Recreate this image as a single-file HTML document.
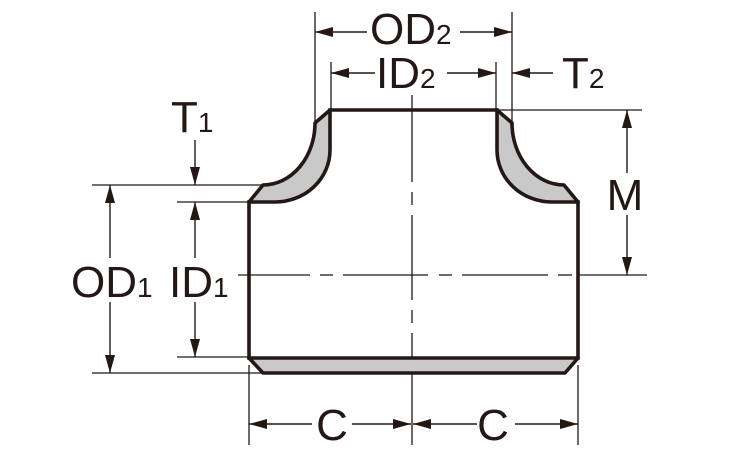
<!DOCTYPE html>
<html>
<head>
<meta charset="utf-8">
<style>
  html,body{margin:0;padding:0;background:#fff;}
  svg{display:block;}
  text{font-family:"Liberation Sans",Arial,sans-serif;fill:#231815;}
</style>
</head>
<body>
<svg width="750" height="450" viewBox="0 0 750 450" xmlns="http://www.w3.org/2000/svg">
  <defs>
    <marker id="ah" viewBox="0 0 18 10" refX="18" refY="5" markerWidth="18" markerHeight="10" markerUnits="userSpaceOnUse" orient="auto">
      <path d="M0,0 L18,5 L0,10 Z" fill="#231815"/>
    </marker>
  </defs>
  <rect width="750" height="450" fill="#fff"/>

  <!-- thin extension lines -->
  <g stroke="#231815" stroke-width="1.3" fill="none">
    <line x1="315" y1="12" x2="315" y2="123"/>
    <line x1="512" y1="12" x2="512" y2="123"/>
    <line x1="331" y1="62" x2="331" y2="110"/>
    <line x1="496" y1="62" x2="496" y2="110"/>
    <line x1="497" y1="110" x2="642" y2="110"/>
    <line x1="92" y1="185" x2="263" y2="185"/>
    <line x1="177" y1="202" x2="249" y2="202"/>
    <line x1="177" y1="357" x2="249" y2="357"/>
    <line x1="92" y1="373" x2="263" y2="373"/>
    <line x1="249" y1="365" x2="249" y2="445"/>
    <line x1="578" y1="365" x2="578" y2="445"/>
  </g>

  <!-- center lines -->
  <g stroke="#231815" stroke-width="1.3" fill="none">
    <line x1="412" y1="95" x2="412" y2="182"/>
    <line x1="412" y1="192" x2="412" y2="205"/>
    <line x1="412" y1="215" x2="412" y2="300"/>
    <line x1="412" y1="310" x2="412" y2="323"/>
    <line x1="412" y1="333" x2="412" y2="445"/>
    <line x1="238" y1="275" x2="310" y2="275"/>
    <line x1="320" y1="275" x2="333" y2="275"/>
    <line x1="343" y1="275" x2="428" y2="275"/>
    <line x1="439" y1="275" x2="452" y2="275"/>
    <line x1="462" y1="275" x2="548" y2="275"/>
    <line x1="558" y1="275" x2="572" y2="275"/>
    <line x1="578" y1="275" x2="647" y2="275"/>
  </g>

  <!-- gray walls -->
  <g fill="#c9c9c9" stroke="#231815" stroke-width="3.6" stroke-linejoin="round">
    <path d="M330,110 L315,123 A52,62 0 0 1 263,185 L249,202 L275,202 A55,52 0 0 0 330,150 Z"/>
    <path d="M497,110 L512,123 A52,62 0 0 0 564,185 L578,202 L552,202 A55,52 0 0 1 497,150 Z"/>
    <path d="M249,358 L578,358 L565,373 L263,373 Z"/>
  </g>
  <!-- thick outline lines -->
  <g stroke="#231815" stroke-width="3.6" fill="none" stroke-linecap="square">
    <line x1="330" y1="110" x2="497" y2="110"/>
    <line x1="249" y1="202" x2="249" y2="358"/>
    <line x1="578" y1="202" x2="578" y2="358"/>
  </g>

  <!-- dimension arrows -->
  <g stroke="#231815" stroke-width="1.4" fill="none">
    <!-- OD2 -->
    <line x1="367" y1="32" x2="315" y2="32" marker-end="url(#ah)"/>
    <line x1="460" y1="32" x2="512" y2="32" marker-end="url(#ah)"/>
    <!-- ID2 -->
    <line x1="375" y1="73" x2="331" y2="73" marker-end="url(#ah)"/>
    <line x1="447" y1="73" x2="496" y2="73" marker-end="url(#ah)"/>
    <!-- T2 -->
    <line x1="553" y1="73" x2="512" y2="73" marker-end="url(#ah)"/>
    <!-- T1 -->
    <line x1="195" y1="140" x2="195" y2="185" marker-end="url(#ah)"/>
    <!-- OD1 -->
    <line x1="110" y1="258" x2="110" y2="185" marker-end="url(#ah)"/>
    <line x1="110" y1="302" x2="110" y2="373" marker-end="url(#ah)"/>
    <!-- ID1 -->
    <line x1="195" y1="258" x2="195" y2="202" marker-end="url(#ah)"/>
    <line x1="195" y1="302" x2="195" y2="357" marker-end="url(#ah)"/>
    <!-- M -->
    <line x1="627" y1="173" x2="627" y2="110" marker-end="url(#ah)"/>
    <line x1="627" y1="215" x2="627" y2="275" marker-end="url(#ah)"/>
    <!-- C -->
    <line x1="312" y1="424" x2="249" y2="424" marker-end="url(#ah)"/>
    <line x1="352" y1="424" x2="411" y2="424" marker-end="url(#ah)"/>
    <line x1="477" y1="424" x2="413" y2="424" marker-end="url(#ah)"/>
    <line x1="515" y1="424" x2="578" y2="424" marker-end="url(#ah)"/>
  </g>

  <!-- labels -->
  <g font-size="44">
    <text x="370" y="44">OD<tspan font-size="28">2</tspan></text>
    <text x="376" y="88">ID<tspan font-size="28">2</tspan></text>
    <text x="562" y="88">T<tspan font-size="28">2</tspan></text>
    <text x="171" y="132">T<tspan font-size="28">1</tspan></text>
    <text x="71" y="297">OD<tspan font-size="28">1</tspan></text>
    <text x="169" y="297">ID<tspan font-size="28">1</tspan></text>
    <text x="625" y="210" text-anchor="middle">M</text>
    <text x="332" y="440" text-anchor="middle">C</text>
    <text x="493" y="440" text-anchor="middle">C</text>
  </g>
</svg>
</body>
</html>
